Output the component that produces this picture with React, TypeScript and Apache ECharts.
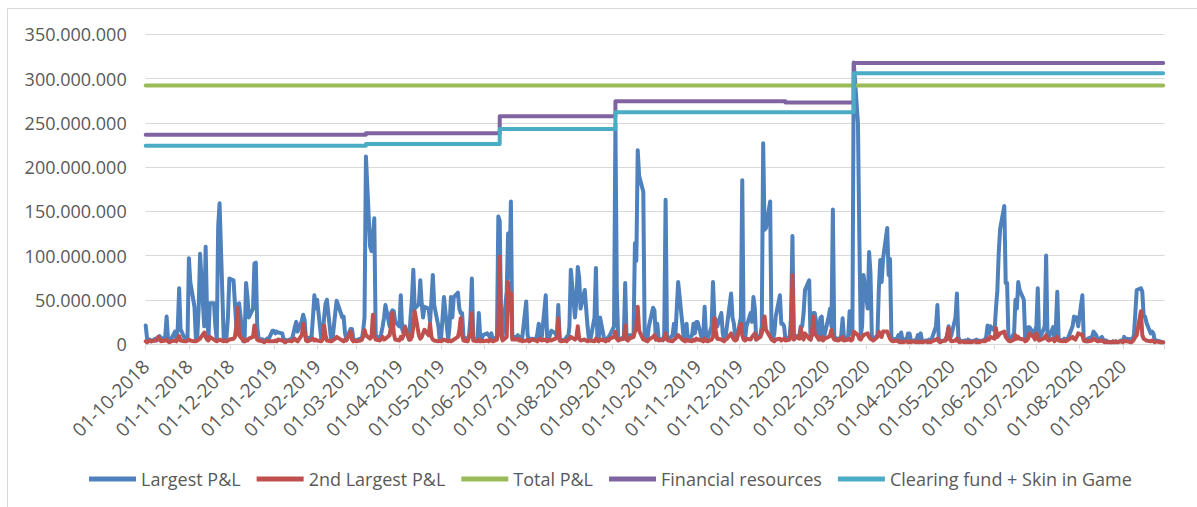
import React, { useEffect, useRef } from 'react';
import * as echarts from 'echarts';

// Months covered (business-day data per month, Mon-Fri)
const months = [
  '2018-10', '2018-11', '2018-12',
  '2019-01', '2019-02', '2019-03', '2019-04', '2019-05', '2019-06',
  '2019-07', '2019-08', '2019-09', '2019-10', '2019-11', '2019-12',
  '2020-01', '2020-02', '2020-03', '2020-04', '2020-05', '2020-06',
  '2020-07', '2020-08', '2020-09',
];

// Largest P&L (millions), one row per month, one value per business day
const largestPnl: number[][] = [
  [21, 6, 4, 5, 3, 6, 4, 7, 9, 5, 8, 31, 6, 4, 5, 14, 6, 18, 63, 17, 6, 4, 5],
  [97, 70, 42, 6, 8, 40, 102, 20, 110, 35, 5, 46, 46, 20, 5, 133, 159, 5, 6, 8, 30, 74],
  [72, 46, 20, 44, 46, 3, 8, 69, 53, 30, 40, 91, 92, 20, 6, 5, 3, 4, 6, 5, 15],
  [15, 12, 14, 13, 12, 4, 5, 3, 4, 6, 12, 19, 25, 14, 26, 33, 27, 5, 6, 8, 30, 55, 40],
  [50, 5, 8, 30, 45, 50, 5, 4, 20, 35, 49, 35, 30, 31, 12, 5, 17, 17, 6, 4],
  [4, 6, 5, 15, 30, 212, 110, 105, 120, 142, 10, 5, 12, 20, 30, 44, 20, 35, 38, 37, 25],
  [20, 55, 17, 12, 20, 5, 30, 50, 84, 40, 45, 72, 46, 30, 42, 40, 25, 50, 78, 44, 20, 4],
  [8, 30, 53, 5, 20, 53, 30, 53, 58, 40, 35, 35, 8, 5, 10, 30, 74, 6, 5, 35, 8, 5, 10],
  [12, 10, 8, 12, 5, 8, 144, 139, 20, 8, 60, 125, 75, 161, 8, 8, 10, 6, 8, 5],
  [48, 10, 5, 4, 6, 5, 12, 23, 8, 5, 55, 8, 4, 10, 15, 12, 8, 44, 6, 4, 5, 8, 6],
  [20, 84, 30, 50, 87, 75, 40, 61, 40, 20, 5, 4, 30, 86, 8, 5, 30, 5, 4, 6, 8, 10],
  [20, 248, 60, 6, 5, 8, 69, 5, 6, 10, 10, 114, 94, 219, 190, 172, 5, 4, 6, 20, 41],
  [38, 5, 23, 6, 4, 10, 163, 8, 5, 10, 23, 8, 40, 70, 23, 5, 8, 23, 5, 10, 23, 12, 25],
  [25, 6, 8, 42, 10, 5, 20, 70, 30, 27, 20, 35, 12, 5, 8, 20, 57, 30, 23, 8, 5],
  [30, 185, 10, 5, 20, 35, 25, 53, 40, 5, 10, 20, 227, 129, 131, 161, 8, 5, 12, 31, 55, 23],
  [23, 20, 5, 8, 30, 122, 5, 8, 10, 20, 20, 35, 61, 72, 5, 12, 35, 35, 5, 29, 31, 8, 10],
  [31, 40, 20, 152, 8, 5, 6, 10, 29, 6, 8, 37, 20, 10, 318, 250, 120, 10, 20, 78],
  [40, 104, 80, 6, 5, 10, 63, 95, 70, 96, 131, 78, 96, 8, 5, 6, 10, 5, 13, 4, 6, 12],
  [12, 4, 3, 5, 10, 4, 12, 3, 4, 3, 5, 4, 6, 20, 44, 5, 4, 3, 5, 10, 20, 6],
  [10, 30, 57, 8, 4, 3, 4, 3, 5, 4, 3, 4, 5, 3, 4, 3, 5, 8, 21, 12, 20],
  [15, 40, 60, 103, 130, 156, 69, 69, 5, 4, 12, 50, 40, 70, 61, 50, 5, 8, 19, 19, 12, 15],
  [20, 63, 5, 16, 20, 100, 5, 8, 19, 5, 20, 59, 5, 4, 6, 4, 5, 8, 20, 31, 27, 30, 20],
  [55, 5, 4, 3, 6, 8, 14, 12, 10, 4, 8, 5, 3, 4, 3, 2, 3, 2, 3, 2, 4],
  [3, 8, 4, 6, 5, 6, 10, 35, 61, 63, 59, 31, 31, 24, 12, 14, 12, 3, 4, 3, 2, 2],
];

// 2nd Largest P&L (millions)
const secondLargestPnl: number[][] = [
  [3, 2, 3, 4, 3, 4, 5, 8, 6, 3, 4, 5, 3, 2, 3, 4, 3, 5, 9, 4, 3, 3, 4],
  [5, 4, 3, 3, 4, 5, 6, 13, 8, 5, 4, 8, 5, 4, 3, 4, 5, 3, 4, 3, 4, 5],
  [6, 8, 20, 41, 10, 4, 3, 5, 4, 6, 8, 21, 10, 5, 4, 3, 2, 3, 4, 3, 3],
  [3, 4, 3, 5, 4, 3, 2, 3, 4, 3, 5, 6, 4, 3, 10, 23, 15, 4, 3, 5, 6, 4, 5],
  [4, 3, 5, 21, 10, 4, 3, 4, 5, 6, 8, 5, 4, 3, 5, 4, 14, 5, 3, 4],
  [3, 4, 5, 8, 16, 10, 6, 8, 33, 10, 5, 4, 6, 8, 5, 6, 10, 20, 35, 12, 5],
  [4, 8, 6, 10, 19, 5, 5, 8, 20, 37, 10, 6, 8, 12, 16, 10, 23, 8, 5, 4, 3, 4],
  [3, 4, 5, 3, 4, 3, 4, 5, 8, 15, 29, 10, 4, 3, 8, 10, 35, 4, 3, 5, 3, 4, 3],
  [4, 3, 5, 4, 3, 5, 20, 99, 10, 4, 8, 70, 40, 57, 5, 5, 6, 4, 5, 3],
  [4, 5, 3, 4, 5, 4, 3, 5, 6, 4, 5, 3, 4, 5, 4, 6, 8, 29, 4, 3, 4, 3, 5],
  [6, 8, 5, 7, 20, 6, 4, 5, 4, 3, 4, 4, 3, 6, 4, 3, 5, 4, 3, 5, 4, 6],
  [8, 14, 6, 4, 5, 6, 21, 5, 4, 6, 8, 14, 20, 42, 15, 5, 5, 4, 3, 5, 8],
  [10, 5, 6, 4, 5, 6, 12, 5, 4, 3, 5, 6, 8, 10, 5, 4, 3, 5, 4, 3, 5, 4, 6],
  [5, 4, 3, 6, 4, 3, 5, 8, 29, 15, 6, 5, 4, 3, 5, 6, 12, 8, 5, 4, 5],
  [23, 10, 5, 4, 6, 5, 8, 10, 12, 5, 8, 12, 20, 31, 16, 8, 5, 4, 3, 5, 6, 4],
  [5, 6, 4, 5, 15, 78, 5, 8, 6, 18, 8, 5, 12, 6, 5, 10, 31, 12, 5, 5, 8, 4, 6],
  [8, 10, 16, 8, 5, 4, 6, 5, 8, 4, 5, 6, 4, 5, 14, 10, 6, 5, 8, 10],
  [12, 8, 6, 5, 4, 8, 14, 10, 8, 14, 14, 10, 6, 4, 3, 4, 3, 2, 3, 2, 3, 2],
  [3, 2, 3, 2, 3, 2, 3, 2, 3, 2, 3, 2, 3, 5, 6, 3, 2, 3, 4, 10, 18, 5],
  [3, 4, 6, 3, 2, 3, 2, 3, 2, 3, 2, 3, 2, 3, 2, 3, 3, 4, 6, 5, 8],
  [6, 18, 8, 10, 12, 14, 8, 6, 4, 3, 5, 10, 6, 8, 6, 5, 3, 4, 6, 12, 8, 5],
  [12, 8, 4, 6, 8, 10, 5, 4, 6, 3, 5, 8, 4, 3, 4, 3, 4, 5, 8, 6, 5, 8, 12],
  [10, 4, 3, 4, 3, 4, 6, 5, 4, 3, 4, 3, 2, 3, 2, 2, 3, 2, 3, 2, 3],
  [2, 4, 3, 3, 2, 3, 5, 8, 10, 37, 10, 6, 5, 4, 3, 4, 3, 2, 3, 2, 2, 2],
];

// Total P&L (millions)
const totalPnlDates = ['2018-10-01', '2020-09-30'];
const totalPnlValues = [292, 292];

// Financial resources (millions), value from each date onwards
const financialDates = ['2018-10-01', '2019-03-08', '2019-06-12', '2019-09-03', '2020-01-03', '2020-02-21', '2020-09-30'];
const financialValues = [236.4, 238.3, 257.3, 274.3, 273, 317.5, 317.5];

// Clearing fund + Skin in Game (millions)
const clearingDates = ['2018-10-01', '2019-03-08', '2019-06-12', '2019-09-03', '2020-02-21', '2020-09-30'];
const clearingValues = [224, 225.9, 243, 262, 306, 306];

const seriesNames = ['Largest P&L', '2nd Largest P&L', 'Total P&L', 'Financial resources', 'Clearing fund + Skin in Game'];
const seriesColors = ['#4F81BD', '#C0504D', '#9BBB59', '#8064A2', '#4BACC6'];

const axisStart = '2018-10-01';
const axisEnd = '2020-10-01';

const DAY = 86400000;

function toTime(s: string): number {
  const [y, m, d] = s.split('-').map(Number);
  return new Date(y, m - 1, d).getTime();
}

function businessDays(ym: string): number[] {
  const [y, m] = ym.split('-').map(Number);
  const out: number[] = [];
  for (let d = 1; d <= 31; d++) {
    const dt = new Date(y, m - 1, d);
    if (dt.getMonth() !== m - 1) break;
    const wd = dt.getDay();
    if (wd !== 0 && wd !== 6) out.push(dt.getTime());
  }
  return out;
}

function dailySeries(vals: number[][]): [number, number][] {
  const out: [number, number][] = [];
  months.forEach((ym, i) => {
    const days = businessDays(ym);
    const row = vals[i] || [];
    days.forEach((t, j) => {
      if (row[j] !== undefined) out.push([t, row[j]]);
    });
  });
  return out;
}

function pairSeries(dates: string[], vals: number[]): [number, number][] {
  return dates.map((d, i) => [toTime(d), vals[i]]);
}

const pad2 = (n: number) => String(n).padStart(2, '0');
const fmtY = (v: number) => (v === 0 ? '0' : `${v}.000.000`);
const fmtX = (v: number) => {
  if (v >= toTime(axisEnd)) return '';
  const d = new Date(v);
  return `${pad2(d.getDate())}-${pad2(d.getMonth() + 1)}-${d.getFullYear()}`;
};

export default function App() {
  const ref = useRef<HTMLDivElement>(null);
  useEffect(() => {
    if (!ref.current) return;
    const chart = echarts.init(ref.current, null, { renderer: 'svg' });
    const font = 'Open Sans';
    const lineSeries = (idx: number, data: [number, number][], step?: string) => ({
      name: seriesNames[idx],
      type: 'line',
      data,
      step: step || false,
      showSymbol: false,
      symbol: 'none',
      color: seriesColors[idx],
      lineStyle: { color: seriesColors[idx], width: 4, join: 'round', cap: 'round' },
      emphasis: { disabled: true },
    });
    chart.setOption({
      animation: false,
      backgroundColor: '#ffffff',
      textStyle: { fontFamily: font },
      graphic: [
        { type: 'line', shape: { x1: 7.5, y1: 8.5, x2: 1197, y2: 8.5 }, style: { stroke: '#d9d9d9', lineWidth: 1 } },
        { type: 'line', shape: { x1: 7.5, y1: 8.5, x2: 7.5, y2: 507 }, style: { stroke: '#d9d9d9', lineWidth: 1 } },
      ],
      grid: { left: 145.7, right: 32.4, top: 34.3, bottom: 163 },
      legend: {
        left: 89,
        top: 470,
        padding: 0,
        icon: 'rect',
        itemWidth: 47,
        itemHeight: 5,
        itemGap: 16,
        textStyle: { color: '#595959', fontSize: 18, fontFamily: font },
        data: seriesNames,
      },
      xAxis: {
        type: 'time',
        min: toTime(axisStart),
        max: toTime(axisEnd),
        splitNumber: 24,
        minInterval: 28 * DAY,
        maxInterval: 31 * DAY,
        axisLine: { show: true, lineStyle: { color: '#d9d9d9', width: 1 } },
        axisTick: { show: true, length: 5, lineStyle: { color: '#d9d9d9' } },
        splitLine: { show: false },
        axisLabel: {
          rotate: 45,
          margin: 19,
          color: '#595959',
          fontSize: 19,
          fontFamily: font,
          formatter: fmtX,
          showMinLabel: true,
          hideOverlap: false,
        },
      },
      yAxis: {
        type: 'value',
        min: 0,
        max: 350,
        interval: 50,
        axisLine: { show: false },
        axisTick: { show: false },
        splitLine: { lineStyle: { color: '#d9d9d9', width: 1 } },
        axisLabel: { margin: 19, color: '#595959', fontSize: 18, fontFamily: font, formatter: fmtY },
      },
      series: [
        lineSeries(0, dailySeries(largestPnl)),
        lineSeries(1, dailySeries(secondLargestPnl)),
        lineSeries(2, pairSeries(totalPnlDates, totalPnlValues)),
        lineSeries(3, pairSeries(financialDates, financialValues), 'end'),
        lineSeries(4, pairSeries(clearingDates, clearingValues), 'end'),
      ],
    });
    return () => chart.dispose();
  }, []);
  return <div ref={ref} style={{ position: 'absolute', left: 0, top: 0, width: 1197, height: 507 }} />;
}
